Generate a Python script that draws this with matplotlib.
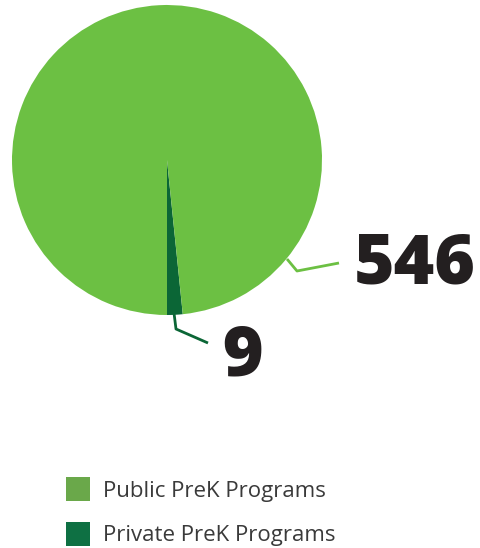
import matplotlib.pyplot as plt
from matplotlib.patches import Rectangle

# program counts
labels = ["Public PreK Programs", "Private PreK Programs"]
counts = [546, 9]

PIE_COLORS = ["#6cc043", "#0b6636"]
LEGEND_COLORS = ["#6aa84a", "#0e7043"]
TEXT_DARK = "#231f20"

W, H = 481, 548

fig = plt.figure(figsize=(W / 100, H / 100), dpi=100)
ax = fig.add_axes([0, 0, 1, 1])

# private slice first so it sits just right of the bottom
ax.pie(
    [counts[1], counts[0]],
    colors=[PIE_COLORS[1], PIE_COLORS[0]],
    center=(167, H - 160),
    radius=155,
    startangle=-90,
    counterclock=True,
    frame=True,
    wedgeprops=dict(linewidth=0),
)
ax.set_xlim(0, W)
ax.set_ylim(0, H)
ax.set_aspect("equal")
ax.axis("off")

# leader lines and value labels
ax.plot([287, 297, 339], [H - 259, H - 271, H - 263],
        color=PIE_COLORS[0], lw=2, solid_capstyle="butt")
ax.text(354, H - 265, f"{counts[0]}", fontsize=50, fontweight=800,
        family="Open Sans", color=TEXT_DARK, va="center", ha="left")

ax.plot([174, 176, 208], [H - 313, H - 329, H - 343],
        color=PIE_COLORS[1], lw=2, solid_capstyle="butt")
ax.text(222, H - 357, f"{counts[1]}", fontsize=50, fontweight=800,
        family="Open Sans", color=TEXT_DARK, va="center", ha="left")

# legend
for i, (lab, col) in enumerate(zip(labels, LEGEND_COLORS)):
    y = H - 501 - i * 45
    ax.add_patch(Rectangle((66, y), 24, 24, color=col, lw=0))
    ax.text(103, y + 10, lab, fontsize=16, family="Open Sans",
            color="#3a3a3a", va="center", ha="left")

fig.savefig("out.png", dpi=100)
